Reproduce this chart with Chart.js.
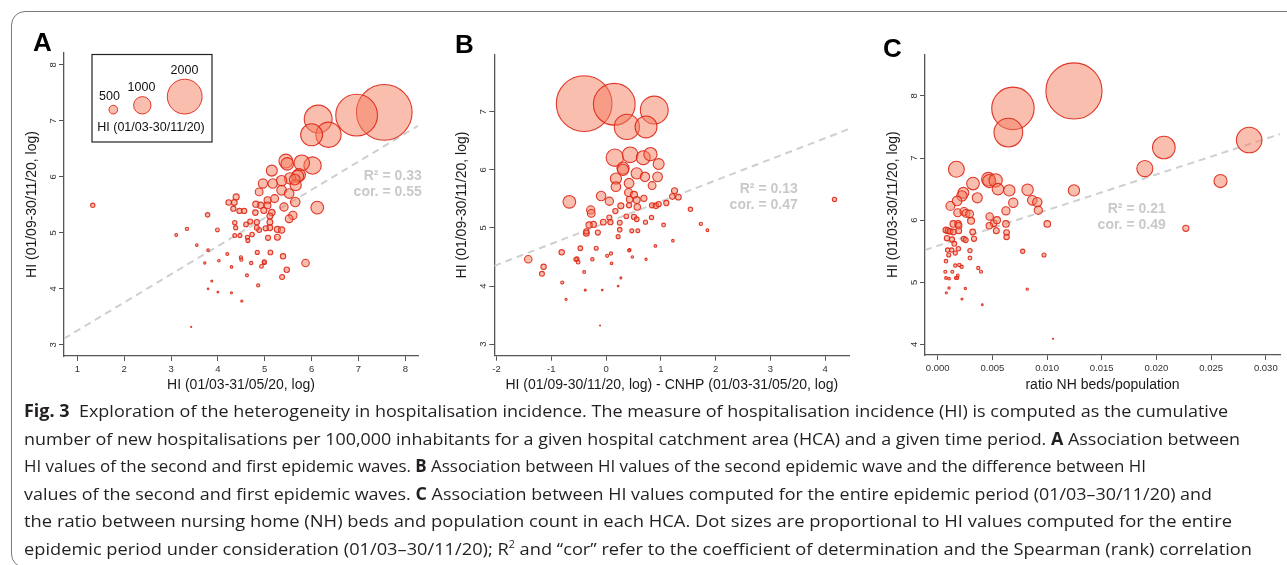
<!DOCTYPE html>
<html>
<head>
<meta charset="utf-8">
<title>Fig. 3</title>
<script src="https://cdn.jsdelivr.net/npm/chart.js@4.4.1/dist/chart.umd.min.js"></script>
<style>
  html, body { margin: 0; padding: 0; background: #fff; }
  body { width: 1287px; height: 565px; position: relative; overflow: hidden; }
  #frame { position: absolute; left: 11px; top: 11px; width: 1400px; height: 557px;
           border: 1.5px solid #7a7a7a; border-radius: 14px; box-sizing: border-box; }
  canvas { position: absolute; top: 0; }
  .tag { position: absolute; font: bold 26px 'Liberation Sans', Arial, sans-serif; line-height: 26px; color: #000; }
  .cap { position: absolute; left: 24px; white-space: nowrap; font: 17px 'Open Sans', sans-serif;
         color: #231f20; transform-origin: 0 50%; line-height: 20px; }
  .cap b { font-weight: 700; }
</style>
</head>
<body>
<div id="frame"></div>

<canvas id="chartA" width="430" height="400" style="left:0px"></canvas>
<canvas id="chartB" width="430" height="400" style="left:430px"></canvas>
<canvas id="chartC" width="427" height="400" style="left:860px"></canvas>

<div class="tag" style="left:33px;top:29px">A</div>
<div class="tag" style="left:455px;top:31px">B</div>
<div class="tag" style="left:883px;top:35px">C</div>

<div class="cap" style="top:401px"><b>Fig. 3</b>&nbsp; Exploration of the heterogeneity in hospitalisation incidence. The measure of hospitalisation incidence (HI) is computed as the cumulative</div>
<div class="cap" style="top:429px">number of new hospitalisations per 100,000 inhabitants for a given hospital catchment area (HCA) and a given time period. <b>A</b> Association between</div>
<div class="cap" style="top:456px">HI values of the second and first epidemic waves. <b>B</b> Association between HI values of the second epidemic wave and the difference between HI</div>
<div class="cap" style="top:484px">values of the second and first epidemic waves. <b>C</b> Association between HI values computed for the entire epidemic period (01/03–30/11/20) and</div>
<div class="cap" style="top:511px">the ratio between nursing home (NH) beds and population count in each HCA. Dot sizes are proportional to HI values computed for the entire</div>
<div class="cap" style="top:539px">epidemic period under consideration (01/03–30/11/20); R<sup style="font-size:10px;line-height:0">2</sup> and “cor” refer to the coefficient of determination and the Spearman (rank) correlation</div>

<script>
// ---- panel A : HI first wave (x) vs HI second wave (y), dot = HI whole period
const aX = [7.55, 6.96, 6.14, 6.36, 6.00, 6.02, 5.79, 5.45, 5.48, 5.15,
            5.73, 5.70, 5.54, 5.36, 5.66, 4.96, 5.17, 5.36, 4.88, 5.52,
            5.21, 5.65, 6.12, 5.41, 5.60, 5.52, 5.06, 5.06, 4.91, 4.81,
            4.98, 5.15, 4.80, 5.11, 4.39, 4.23, 4.35, 4.33, 4.46, 4.56,
            3.78, 4.69, 4.60, 4.83, 5.11, 5.11, 5.02, 4.88, 4.83, 5.27,
            5.36, 4.36, 4.38, 3.99, 3.34, 3.11, 4.36, 4.47, 4.73, 4.63,
            4.64, 5.07, 5.27, 3.55, 3.79, 4.20, 4.84, 5.12, 4.02, 3.72,
            4.49, 4.50, 4.71, 4.99, 4.99, 4.93, 5.39, 5.87, 5.47, 5.37,
            4.29, 4.62, 3.87, 4.86, 3.79, 4.00, 4.29, 4.51, 3.43, 1.33, 5.64];
const aY = [7.15, 7.10, 7.03, 6.75, 6.75, 6.20, 6.25, 6.28, 6.23, 6.11,
            6.03, 6.01, 5.97, 5.93, 5.85, 5.88, 5.88, 5.76, 5.73, 5.70,
            5.61, 5.55, 5.45, 5.46, 5.31, 5.25, 5.58, 5.49, 5.49, 5.51,
            5.40, 5.36, 5.36, 5.30, 5.64, 5.54, 5.54, 5.43, 5.39, 5.39,
            5.32, 5.20, 5.15, 5.19, 5.19, 5.09, 5.08, 5.05, 5.09, 5.06,
            5.05, 5.18, 5.09, 5.05, 5.07, 4.96, 4.95, 4.95, 4.97, 4.92,
            4.86, 4.91, 4.92, 4.78, 4.69, 4.62, 4.65, 4.65, 4.50, 4.46,
            4.56, 4.52, 4.46, 4.47, 4.48, 4.40, 4.58, 4.46, 4.34, 4.21,
            4.39, 4.24, 4.14, 4.06, 4.00, 3.94, 3.93, 3.78, 3.32, 5.49, 5.95];
const aHI = [3200, 2400, 1600, 1450, 1260, 1000, 900, 800, 720, 630,
             740, 700, 650, 600, 640, 530, 540, 560, 450, 550,
             460, 545, 730, 475, 475, 445, 400, 390, 370, 355,
             350, 370, 320, 340, 350, 320, 330, 300, 300, 300,
             255, 290, 270, 300, 330, 330, 300, 280, 280, 350,
             360, 250, 240, 220, 190, 160, 225, 230, 260, 240,
             230, 290, 340, 150, 150, 170, 230, 270, 145, 130,
             185, 180, 195, 230, 235, 215, 310, 430, 310, 285,
             150, 170, 110, 180, 95, 100, 115, 125, 60, 250, 620];

// ---- panel B : HI second wave - CNHP first wave (x) vs HI second wave (y)
const bX = [-0.40, 0.15, 0.88, 0.38, 0.73, 0.16, 0.44, 0.68, 0.81, 0.31,
            0.96, 0.31, 0.56, 0.18, 0.71, 0.94, 0.42, 0.18, 0.84, -0.67,
            -0.09, 0.41, 0.51, 0.06, 0.69, 0.56, 0.43, 0.27, 0.42, 0.57,
            0.17, -0.28, -0.27, 0.84, 0.91, 0.96, 1.10, 1.21, 1.25, 1.32,
            1.54, 4.17, -0.05, 0.06, 0.08, -0.23, -0.31, 0.25, 0.37, 0.51,
            0.56, 0.83, 0.72, 1.05, 1.73, 1.85, 0.25, 0.47, 0.58, -0.15,
            -0.36, -0.36, 0.22, 1.22, -0.47, -0.18, 0.90, -0.81, 0.09, 0.02,
            0.43, 0.42, 0.48, 0.73, -0.25, -0.53, -0.55, -0.51, -1.42, -1.14,
            -1.17, 0.10, -0.40, 0.27, -0.80, 0.22, -0.38, -0.07, -0.73, -0.11];
const bY = [7.14, 7.13, 7.03, 6.74, 6.74, 6.21, 6.26, 6.21, 6.27, 6.03,
            6.10, 6.00, 5.94, 5.85, 5.88, 5.88, 5.77, 5.71, 5.73, 5.45,
            5.55, 5.61, 5.57, 5.46, 5.51, 5.48, 5.49, 5.38, 5.39, 5.36,
            5.29, 5.31, 5.25, 5.39, 5.38, 5.41, 5.43, 5.54, 5.64, 5.53,
            5.32, 5.49, 5.10, 5.18, 5.10, 5.06, 5.05, 5.09, 5.20, 5.19,
            5.15, 5.18, 5.10, 5.05, 5.07, 4.96, 4.97, 4.95, 4.95, 4.92,
            4.91, 4.94, 4.85, 4.78, 4.65, 4.65, 4.69, 4.58, 4.56, 4.52,
            4.62, 4.61, 4.50, 4.46, 4.46, 4.47, 4.46, 4.41, 4.46, 4.33,
            4.21, 4.39, 4.24, 4.14, 4.06, 4.00, 3.93, 3.93, 3.77, 3.32];
const bHI = [3200, 2400, 1600, 1450, 1260, 1000, 900, 800, 760, 700,
             630, 650, 650, 640, 540, 560, 560, 550, 450, 730,
             545, 460, 400, 475, 355, 390, 370, 350, 300, 370,
             300, 475, 445, 300, 320, 300, 300, 320, 350, 330,
             255, 250, 330, 290, 300, 350, 360, 280, 270, 300,
             270, 250, 240, 220, 190, 160, 260, 230, 225, 290,
             340, 300, 230, 150, 270, 230, 150, 310, 185, 180,
             170, 165, 145, 130, 195, 230, 235, 215, 430, 310,
             285, 150, 170, 110, 180, 95, 115, 100, 125, 60];

// ---- panel C : ratio NH beds/population (x) vs HI whole period, log (y)
const cX = [0.01246, 0.00688, 0.00646, 0.02848, 0.02068, 0.01894, 0.00171, 0.00463, 0.00472, 0.00530,
            0.02586, 0.00323, 0.00551, 0.00655, 0.00822, 0.01246, 0.00235, 0.00222, 0.00362, 0.00177,
            0.00865, 0.00911, 0.00691, 0.00116, 0.00920, 0.00624, 0.00183, 0.00241, 0.00259, 0.00292,
            0.00305, 0.00475, 0.01002, 0.00143, 0.00186, 0.00192, 0.00512, 0.00542, 0.00624, 0.00472,
            0.00536, 0.00630, 0.00630, 0.00320, 0.00332, 0.00076, 0.00095, 0.00113, 0.00143, 0.00192,
            0.00085, 0.00131, 0.00238, 0.00256, 0.00152, 0.00189, 0.00091, 0.00128, 0.00101, 0.00161,
            0.00295, 0.00295, 0.00076, 0.00777, 0.00972, 0.02269, 0.00161, 0.00198, 0.00219, 0.00371,
            0.00396, 0.00070, 0.00134, 0.00076, 0.00104, 0.00165, 0.00183, 0.00180, 0.00104, 0.00253,
            0.00819, 0.00079, 0.00222, 0.00408, 0.01054];
const cY = [8.08, 7.80, 7.41, 7.29, 7.17, 6.83, 6.82, 6.66, 6.63, 6.64,
            6.63, 6.59, 6.50, 6.48, 6.49, 6.48, 6.44, 6.39, 6.36, 6.31,
            6.32, 6.29, 6.28, 6.23, 6.16, 6.15, 6.12, 6.14, 6.11, 6.10,
            5.99, 6.06, 5.94, 5.94, 5.94, 5.91, 5.95, 6.00, 5.94, 5.91,
            5.83, 5.80, 5.73, 5.81, 5.70, 5.84, 5.83, 5.82, 5.81, 5.83,
            5.71, 5.69, 5.70, 5.68, 5.62, 5.54, 5.52, 5.52, 5.44, 5.47,
            5.51, 5.39, 5.34, 5.50, 5.44, 5.87, 5.27, 5.28, 5.25, 5.23,
            5.17, 5.17, 5.17, 5.07, 5.06, 5.07, 5.11, 5.07, 4.91, 4.90,
            4.89, 4.83, 4.73, 4.64, 4.09];

// ticks, regression fits [intercept, slope], stats
const aXTicks = [1, 2, 3, 4, 5, 6, 7, 8];
const aYTicks = [3, 4, 5, 6, 7, 8];
const bXTicks = [-2, -1, 0, 1, 2, 3, 4];
const bYTicks = [3, 4, 5, 6, 7];
const cXTicks = [0, 0.005, 0.010, 0.015, 0.020, 0.025, 0.030];
const cYTicks = [4, 5, 6, 7, 8];
const fitA = [2.75, 0.503];
const fitB = [5.09, 0.364];
const fitC = [5.586, 57.5];
const statsA = ['R² = 0.33', 'cor. = 0.55'];
const statsB = ['R² = 0.13', 'cor. = 0.47'];
const statsC = ['R² = 0.21', 'cor. = 0.49'];
const legendHI = [500, 1000, 2000];

const FONT = "'Liberation Sans', Arial, sans-serif";
const R_PER_HI = 0.0087;   // dot radius (px) per HI unit
const FILL = 'rgba(245,125,95,0.5)';
const EDGE = 'rgba(222,38,22,0.9)';

function axis(range, ticks, title, fmt, size, vertical) {
  return {
    type: 'linear', min: range[0], max: range[1],
    afterBuildTicks: s => { s.ticks = ticks.map(v => ({ value: v })); },
    afterFit: s => { if (vertical) s.width = size; else s.height = size; },
    ticks: Object.assign({ font: { family: FONT, size: 9.5 }, color: '#333', padding: 3, autoSkip: false, callback: fmt },
      vertical ? { minRotation: 90, maxRotation: 90, crossAlign: 'center' } : { maxRotation: 0 }),
    grid: { drawOnChartArea: false, tickLength: 5, color: '#555', lineWidth: 1 },
    border: { color: '#555', width: 1.3 },
    title: { display: true, text: title, font: { family: FONT, size: 14 }, color: '#1a1a1a', padding: 0 }
  };
}

function statsPlugin(lines, right, y) {
  return {
    id: 'stats',
    afterDatasetsDraw(chart) {
      const ctx = chart.ctx;
      ctx.save();
      ctx.font = 'bold 14px ' + FONT;
      ctx.fillStyle = '#c9c9c9';
      ctx.textAlign = 'right';
      ctx.textBaseline = 'middle';
      ctx.fillText(lines[0], right, y);
      ctx.fillText(lines[1], right, y + 16);
      ctx.restore();
    }
  };
}

// size legend of panel A
const sizeLegend = {
  id: 'sizeLegend',
  afterDraw(chart) {
    const ctx = chart.ctx;
    ctx.save();
    ctx.strokeStyle = '#222';
    ctx.lineWidth = 1.2;
    ctx.strokeRect(92, 54.5, 120, 87.5);
    const cx = [113.3, 142.3, 184.7];
    const lx = [109.5, 141.5, 184.5];
    ctx.font = '12.5px ' + FONT;
    ctx.textAlign = 'center';
    ctx.textBaseline = 'middle';
    legendHI.forEach((v, i) => {
      const r = v * R_PER_HI;
      const cy = 114 - r;
      ctx.beginPath();
      ctx.arc(cx[i], cy, r, 0, Math.PI * 2);
      ctx.fillStyle = FILL;
      ctx.fill();
      ctx.strokeStyle = EDGE;
      ctx.lineWidth = 1;
      ctx.stroke();
      ctx.fillStyle = '#111';
      ctx.fillText(String(v), lx[i], cy - r - 9);
    });
    ctx.fillText('HI (01/03-30/11/20)', 151, 128);
    ctx.restore();
  }
};

function panel(id, p) {
  const bubbles = p.x.map((v, i) => ({ x: v, y: p.y[i], r: p.hi[i] * R_PER_HI }));
  const fitLine = p.xRange.map(v => ({ x: v, y: p.fit[0] + p.fit[1] * v }));
  return new Chart(document.getElementById(id).getContext('2d'), {
    type: 'bubble',
    data: {
      datasets: [
        { data: bubbles, backgroundColor: FILL, borderColor: EDGE, borderWidth: 1.1, order: 1 },
        { type: 'line', data: fitLine, borderColor: '#cfcfcf', borderWidth: 2, borderDash: [7, 5],
          pointRadius: 0, fill: false, tension: 0, order: 2 }
      ]
    },
    options: {
      responsive: false, animation: false, events: [],
      layout: { autoPadding: false, padding: p.pad },
      plugins: { legend: { display: false }, tooltip: { enabled: false } },
      scales: {
        x: axis(p.xRange, p.xTicks, p.xTitle, p.xFmt, p.xH, false),
        y: axis(p.yRange, p.yTicks, p.yTitle, v => String(v), p.yW, true)
      }
    },
    plugins: p.extra
  });
}

const intFmt = v => String(v);

panel('chartA', {
  x: aX, y: aY, hi: aHI, fit: fitA,
  xRange: [0.716, 8.27], yRange: [2.80, 8.21], xTicks: aXTicks, yTicks: aYTicks,
  xTitle: 'HI (01/03-31/05/20, log)', yTitle: 'HI (01/09-30/11/20, log)', xFmt: intFmt,
  pad: { left: 23.6, top: 53, right: 12, bottom: 6 }, xH: 38, yW: 40.4,
  extra: [statsPlugin(statsA, 421.7, 176), sizeLegend]
});

panel('chartB', {
  x: bX, y: bY, hi: bHI, fit: fitB,
  xRange: [-2.04, 4.44], yRange: [2.80, 7.99], xTicks: bXTicks, yTicks: bYTicks,
  xTitle: 'HI (01/09-30/11/20, log) - CNHP (01/03-31/05/20, log)', yTitle: 'HI (01/09-30/11/20, log)', xFmt: intFmt,
  pad: { left: 23.6, top: 54.3, right: 10.7, bottom: 6 }, xH: 38.3, yW: 40.7,
  extra: [statsPlugin(statsB, 367.7, 189)]
});

panel('chartC', {
  x: cX, y: cY, hi: cY.map(v => Math.exp(v)), fit: fitC,
  xRange: [-0.00116, 0.0313], yRange: [3.83, 8.67], xTicks: cXTicks, yTicks: cYTicks,
  xTitle: 'ratio NH beds/population', yTitle: 'HI (01/03-30/11/20, log)', xFmt: v => v.toFixed(3),
  pad: { left: 24.3, top: 54.3, right: 7, bottom: 6 }, xH: 39, yW: 40.7,
  extra: [statsPlugin(statsC, 305.7, 209)]
});

// stretch each caption line to the width it has in the figure
const captionEnds = [1228, 1240, 1146, 1212, 1232, 1252];
document.querySelectorAll('.cap').forEach((el, i) => {
  const w = el.getBoundingClientRect().width;
  el.style.transform = 'scaleX(' + ((captionEnds[i] - 24) / w) + ')';
});
</script>
</body>
</html>
